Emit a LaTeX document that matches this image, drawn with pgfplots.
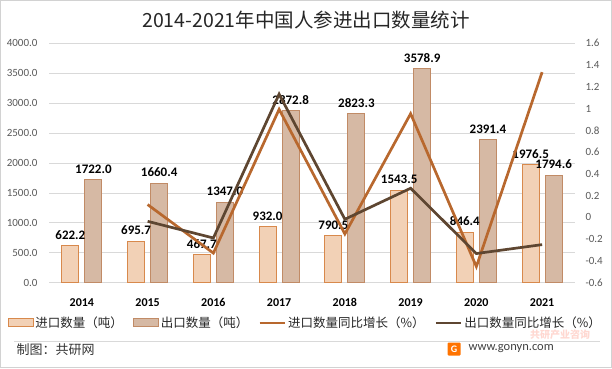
\documentclass[border=0pt]{standalone}
\usepackage{pgfplots}
\pgfplotsset{compat=1.18}
\usepackage{fontspec}
\setmainfont{Carlito}
\newfontfamily\cjk{Noto Sans CJK SC}
\definecolor{impfill}{HTML}{F2D1B6}
\definecolor{impdraw}{HTML}{D8894C}
\definecolor{expfill}{HTML}{D6B9A4}
\definecolor{expdraw}{HTML}{C18B66}
\definecolor{impline}{HTML}{B8682E}
\definecolor{expline}{HTML}{5E4631}
\definecolor{ticktext}{HTML}{595959}
\definecolor{gridc}{HTML}{D9D9D9}
\begin{document}
\begin{tikzpicture}[x=1pt,y=1pt]
\draw[gray!35, line width=0.8pt] (0.4,0.4) rectangle (611.6,367.6);
\node[font=\cjk\fontsize{19.5}{23}\selectfont, text=black!85] at (306,348) {2014-2021年中国人参进出口数量统计};
\begin{axis}[
  at={(49pt,85.3pt)}, anchor=south west, scale only axis,
  width=526pt, height=239.4pt,
  xmin=-0.5, xmax=7.5, ymin=0, ymax=4000,
  ytick={0,500,...,4000},
  xtick={0,...,7}, xticklabels={2014,2015,2016,2017,2018,2019,2020,2021},
  ymajorgrids, grid style={draw=gridc, line width=0.8pt},
  axis line style={draw=none}, major tick length=0pt,
  ybar=6pt, bar width=17pt,
  yticklabel style={font=\fontsize{11}{13}\selectfont, text=ticktext, xshift=-8pt,
    /pgf/number format/fixed, /pgf/number format/fixed zerofill,
    /pgf/number format/precision=1, /pgf/number format/1000 sep={},
    /pgf/number format/assume math mode=true},
  xticklabel style={font=\bfseries\fontsize{12}{14}\selectfont, text=black, yshift=-12pt},
  nodes near coords,
  nodes near coords style={font=\bfseries\fontsize{13}{15}\selectfont, text=black, yshift=2.5pt,
    /pgf/number format/fixed, /pgf/number format/fixed zerofill,
    /pgf/number format/precision=1, /pgf/number format/1000 sep={},
    /pgf/number format/assume math mode=true},
]
\addplot[fill=impfill, draw=impdraw, line width=0.9pt] coordinates {
  (0,622.2) (1,695.7) (2,467.7) (3,932.0) (4,790.5) (5,1543.5) (6,846.4) (7,1976.5)};
\addplot[fill=expfill, draw=expdraw, line width=0.9pt] coordinates {
  (0,1722.0) (1,1660.4) (2,1347.0) (3,2872.8) (4,2823.3) (5,3578.9) (6,2391.4) (7,1794.6)};
\end{axis}
\begin{axis}[
  at={(49pt,85.3pt)}, anchor=south west, scale only axis,
  width=526pt, height=239.4pt,
  xmin=-0.5, xmax=7.5, ymin=-0.6, ymax=1.6,
  ytick={-0.6,-0.4,-0.2,0,0.2,0.4,0.6,0.8,1,1.2,1.4,1.6},
  axis y line*=right, axis x line=none, xtick=\empty,
  axis line style={draw=none}, major tick length=0pt,
  yticklabel style={font=\fontsize{11}{13}\selectfont, text=ticktext, xshift=7pt,
    /pgf/number format/assume math mode=true},
  legend columns=4,
  legend style={draw=none, fill=none, font=\cjk\fontsize{12.5}{15}\selectfont, text=black!85,
    at={(axis description cs:0.487,-0.168)}, anchor=center,
    /tikz/every even column/.append style={column sep=8pt}},
  legend image code/.code={\draw[#1] (0pt,0pt) -- (25pt,0pt);},
]
\addlegendimage{legend image code/.code={\draw[fill=impfill,draw=impdraw,line width=0.9pt] (0pt,-4pt) rectangle (25pt,4pt);}}
\addlegendentry{进口数量（吨）}
\addlegendimage{legend image code/.code={\draw[fill=expfill,draw=expdraw,line width=0.9pt] (0pt,-4pt) rectangle (25pt,4pt);}}
\addlegendentry{出口数量（吨）}
\addplot[impline, line width=2.7pt, line join=miter] coordinates {
  (1,0.118) (2,-0.328) (3,0.993) (4,-0.152) (5,0.953) (6,-0.452) (7,1.335)};
\addlegendentry{进口数量同比增长（\%）}
\addplot[expline, line width=2.7pt, line join=miter] coordinates {
  (1,-0.036) (2,-0.189) (3,1.133) (4,-0.017) (5,0.268) (6,-0.332) (7,-0.250)};
\addlegendentry{出口数量同比增长（\%）}
\end{axis}
\node[text=red!70!orange, opacity=0.18, font=\cjk\bfseries\fontsize{10}{10}\selectfont] at (560,33.5) {共研产业咨询};
\draw[gridc, line width=0.8pt] (14,27) -- (600,27);
\node[anchor=west, font=\cjk\fontsize{13}{15}\selectfont, text=black!80] at (13,18) {制图：共研网};
\node[fill=orange!90!red, text=white, font=\bfseries\fontsize{10}{10}\selectfont, minimum size=13pt, inner sep=0pt, rounded corners=1pt] at (454,19) {G};
\node[anchor=west, font=\fontsize{12.5}{14}\selectfont, text=black!75] at (465,19) {www.gonyn.com};
\end{tikzpicture}
\end{document}
